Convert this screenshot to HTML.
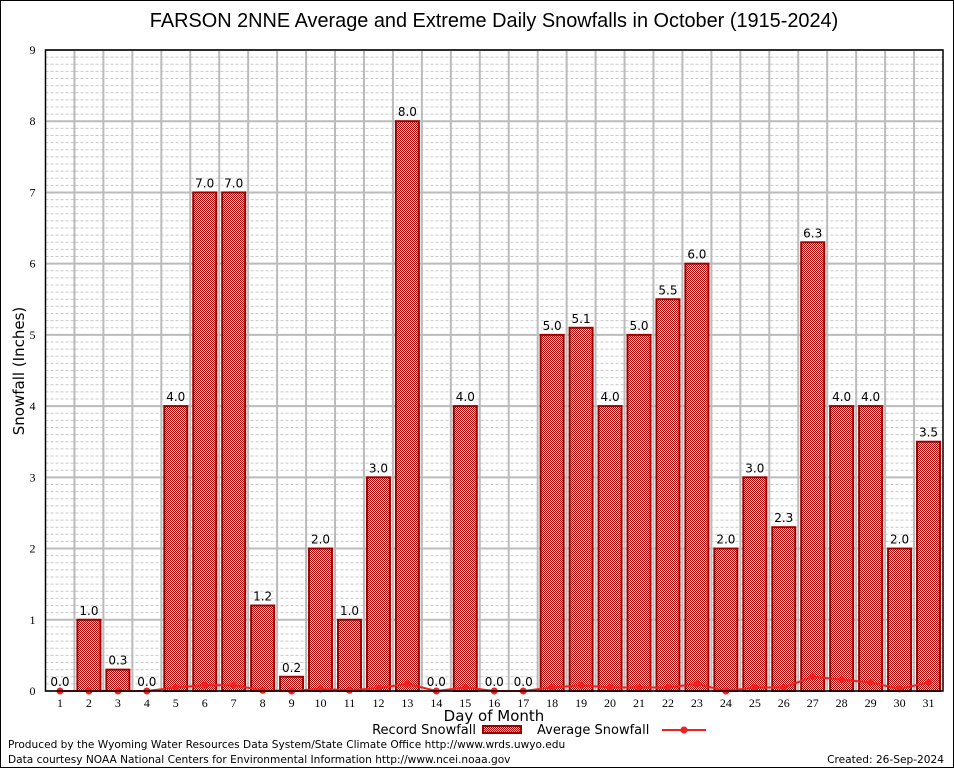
<!DOCTYPE html>
<html><head><meta charset="utf-8"><style>
body{margin:0;background:#fff;}
svg{display:block;font-family:"DejaVu Sans","Liberation Sans",sans-serif;}
</style></head><body>
<svg id="chart" width="954" height="768" viewBox="0 0 954 768">
<defs>
<pattern id="chk" width="2" height="2" patternUnits="userSpaceOnUse">
<rect width="2" height="2" fill="#f4dcdc"/><rect width="1" height="1" fill="#b00000"/><rect x="1" y="1" width="1" height="1" fill="#b00000"/>
</pattern>
</defs>
<rect x="0.5" y="0.5" width="953" height="767" fill="#fff" stroke="#000"/>
<text x="494" y="27" font-size="19.9" text-anchor="middle" font-family="Liberation Sans, sans-serif">FARSON 2NNE Average and Extreme Daily Snowfalls in October (1915-2024)</text>
<g id="grid"></g>
<g id="bars"></g>
<g id="avg"></g>
<g id="axes"></g>
<text x="24" y="371" font-size="15" text-anchor="middle" transform="rotate(-90 24 371)">Snowfall (Inches)</text>
<text x="494" y="721" font-size="15" text-anchor="middle">Day of Month</text>
<g>
<text x="476" y="734" font-size="13" text-anchor="end">Record Snowfall</text>
<rect x="483" y="726" width="38" height="7" fill="url(#chk)" stroke="#a00000" stroke-width="2"/>
<text x="537" y="734" font-size="13">Average Snowfall</text>
<line x1="662" y1="730" x2="706" y2="730" stroke="#f02020" stroke-width="2"/>
<circle cx="684" cy="730" r="3.5" fill="#f02020"/>
</g>
<text x="8" y="748" font-size="10.6">Produced by the Wyoming Water Resources Data System/State Climate Office http://www.wrds.uwyo.edu</text>
<text x="8" y="763" font-size="10.6">Data courtesy NOAA National Centers for Environmental Information http://www.ncei.noaa.gov</text>
<text x="944" y="763" font-size="10.6" text-anchor="end">Created: 26-Sep-2024</text>
</svg>
<script>
const days=[1,2,3,4,5,6,7,8,9,10,11,12,13,14,15,16,17,18,19,20,21,22,23,24,25,26,27,28,29,30,31];
const recordVals=[0,1.0,0.3,0,4.0,7.0,7.0,1.2,0.2,2.0,1.0,3.0,8.0,0,4.0,0,0,5.0,5.1,4.0,5.0,5.5,6.0,2.0,3.0,2.3,6.3,4.0,4.0,2.0,3.5];
const avgVals=[0,0,0,0,0.05,0.08,0.08,0.01,0,0.03,0.01,0.04,0.1,0,0.05,0,0,0.05,0.08,0.05,0.05,0.05,0.1,0,0.05,0.05,0.2,0.16,0.12,0.03,0.12];
const yTicks=[0,1,2,3,4,5,6,7,8,9];
const NS="http://www.w3.org/2000/svg";
const L=45.5,R=943,T=50,B=691,yMax=9;
const step=(R-L)/days.length;
const xs=d=>L+step*(d-0.5);
const ys=v=>B-(v/yMax)*(B-T);
function mk(tag,attrs,parent){const e=document.createElementNS(NS,tag);for(const k in attrs)e.setAttribute(k,attrs[k]);parent.appendChild(e);return e;}
const grid=document.getElementById('grid'),bars=document.getElementById('bars'),avg=document.getElementById('avg'),axes=document.getElementById('axes');
for(let v=0.1;v<yMax;v+=0.1){const r=Math.round(v*10)/10;if(Math.abs(r-Math.round(r))<1e-6)continue;
const g=mk('line',{x1:L,x2:R,y1:ys(r),y2:ys(r),stroke:'#c8c8c8','stroke-dasharray':'3,2','stroke-width':1},grid);

}
yTicks.forEach(t=>{const g=mk('line',{x1:L,x2:R,y1:ys(t),y2:ys(t),stroke:'#bbb','stroke-width':2},grid);


const tx=mk('text',{x:L-10,y:ys(t)+4,'font-size':12,'text-anchor':'end','font-family':'Liberation Serif, serif'},axes);tx.textContent=t;

});
for(let i=1;i<days.length;i++){const g=mk('line',{x1:L+step*i,x2:L+step*i,y1:T,y2:B,stroke:'#bbb','stroke-width':2},grid);

}
days.forEach((d,i)=>{const v=recordVals[i],x=xs(d);
if(v>0){const b=mk('rect',{x:x-11.5,y:ys(v),width:23,height:B-ys(v),fill:'url(#chk)',stroke:'#a00000','stroke-width':2},bars);

}
const lb=mk('text',{x:x,y:ys(v)-5,'font-size':12,'text-anchor':'middle'},bars);lb.textContent=v.toFixed(1);


const tl=mk('text',{x:x,y:B+16,'font-size':12,'text-anchor':'middle','font-family':'Liberation Serif, serif'},axes);tl.textContent=d;

});
const pts=days.map((d,i)=>xs(d)+','+ys(avgVals[i])).join(' ');
const pl=mk('polyline',{points:pts,fill:'none',stroke:'#f02020','stroke-width':2},avg);


days.forEach((d,i)=>{const c=mk('circle',{cx:xs(d),cy:ys(avgVals[i]),r:3.5,fill:'#f02020'},avg);

});
const fr=mk('rect',{x:L,y:T,width:R-L,height:B-T,fill:'none',stroke:'#000','stroke-width':1.5},axes);


</script>
</body></html>
